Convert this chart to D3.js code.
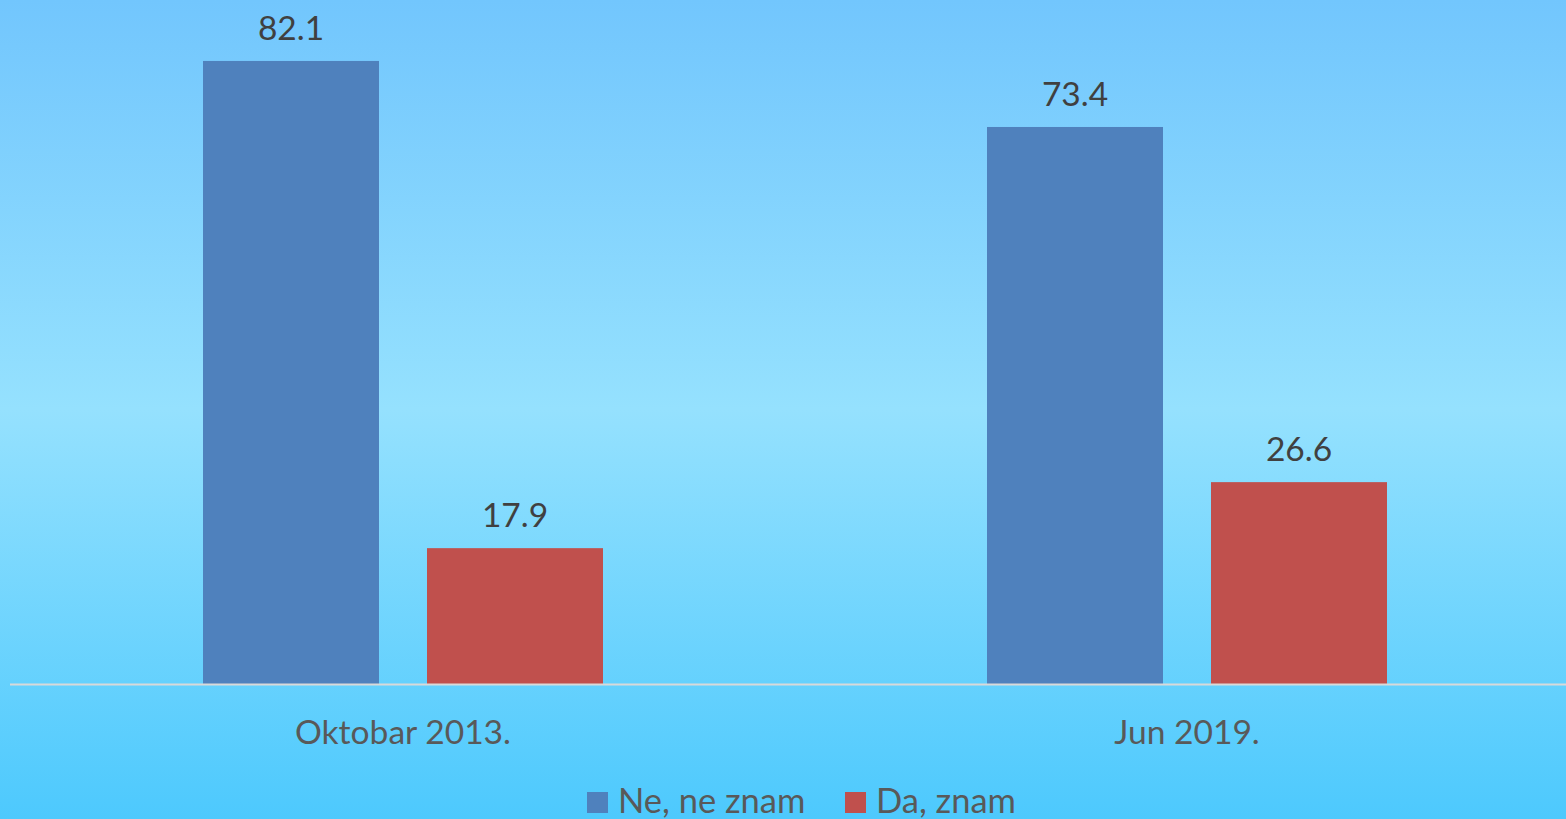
<!DOCTYPE html>
<html><head><meta charset="utf-8">
<script src="https://cdn.jsdelivr.net/npm/d3@7"></script>
<style>html,body{margin:0;padding:0;overflow:hidden}svg{display:block}</style>
</head><body>
<script>
const categories = ["Oktobar 2013.", "Jun 2019."];
const seriesNames = ["Ne, ne znam", "Da, znam"];
const neValues = [82.1, 73.4];
const daValues = [17.9, 26.6];
const seriesColors = ["#4F81BD", "#C0504D"];

const W = 1566, H = 819;
const font = "Lato, 'Open Sans', sans-serif";
const svg = d3.select("body").append("svg").attr("width", W).attr("height", H);

const defs = svg.append("defs");
const grad = defs.append("linearGradient").attr("id","bg").attr("x1",0).attr("y1",0).attr("x2",0).attr("y2",1);
grad.append("stop").attr("offset","0%").attr("stop-color","#72C6FD");
grad.append("stop").attr("offset","50%").attr("stop-color","#95E1FE");
grad.append("stop").attr("offset","100%").attr("stop-color","#4DC9FD");
svg.append("rect").attr("width",W).attr("height",H).attr("fill","url(#bg)");

const data = categories.map((c,i)=>({cat:c, vals:[neValues[i], daValues[i]]}));

const x0 = d3.scaleBand().domain(categories).range([11, 1579]).padding(0);
const x1 = d3.scaleBand().domain(seriesNames)
  .range([x0.bandwidth()*192/784, x0.bandwidth()*592/784]).paddingInner(48/224).paddingOuter(0);
const y = d3.scaleLinear().domain([0, 90]).range([684, 1]);

const g = svg.append("g");
const groups = g.selectAll("g.grp").data(data).join("g").attr("class","grp")
  .attr("transform", d=>`translate(${x0(d.cat)},0)`);
groups.selectAll("rect").data(d=>d.vals.map((v,i)=>({s:seriesNames[i], v, i})))
  .join("rect")
  .attr("x", d=>x1(d.s)).attr("width", x1.bandwidth())
  .attr("y", d=>y(d.v)).attr("height", d=>y(0)-y(d.v))
  .attr("fill", d=>seriesColors[d.i]);
groups.selectAll("text.val").data(d=>d.vals.map((v,i)=>({s:seriesNames[i], v, i})))
  .join("text").attr("class","val")
  .attr("x", d=>x1(d.s)+x1.bandwidth()/2).attr("y", d=>y(d.v)-21)
  .attr("text-anchor","middle").attr("font-family",font).attr("font-size",33.5)
  .attr("fill","#404040").text(d=>d.v.toFixed(1));

// axis
const xAxis = d3.axisBottom(x0).tickSize(0).tickPadding(0);
const ax = svg.append("g").attr("transform",`translate(0,${y(0)})`).call(xAxis);
ax.select(".domain").attr("stroke","#D9D9D9").attr("stroke-width",2).attr("d","M10,0.5H1578");
ax.selectAll(".tick text").attr("font-family",font).attr("font-size",33.6)
  .attr("fill","#595959").attr("dy",null).attr("y",60);

// legend
const legendItems = [{name:seriesNames[0], x:587, tx:618},{name:seriesNames[1], x:845, tx:876}];
const lg = svg.append("g");
legendItems.forEach((d,i)=>{
  lg.append("rect").attr("x",d.x).attr("y",792).attr("width",21).attr("height",21).attr("fill",seriesColors[i]);
  lg.append("text").attr("x",d.tx).attr("y",813).attr("font-family",font).attr("font-size",34.5)
    .attr("fill","#595959").text(d.name);
});
</script>
</body></html>
